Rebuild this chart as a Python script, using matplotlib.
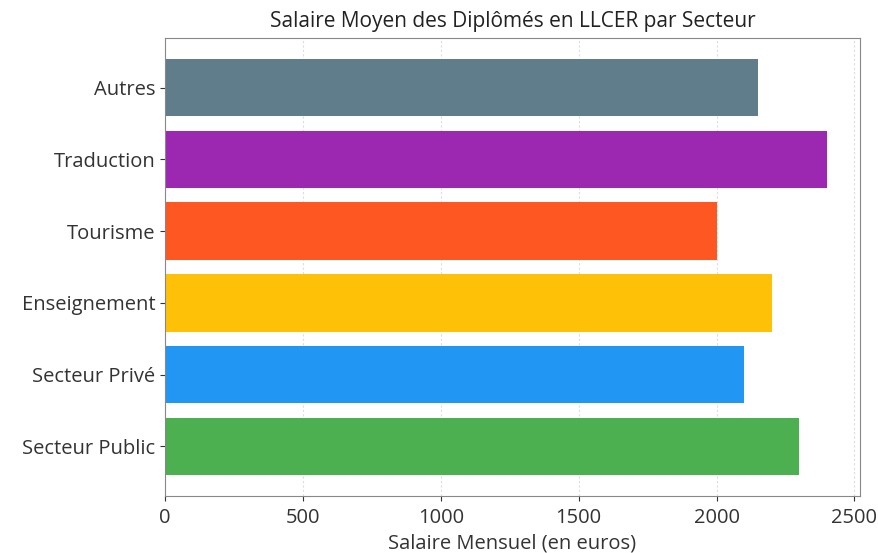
import matplotlib
matplotlib.use("Agg")
import matplotlib.pyplot as plt

categories = ["Secteur Public", "Secteur Privé", "Enseignement", "Tourisme", "Traduction", "Autres"]
salaries = [2300, 2100, 2200, 2000, 2400, 2150]
colors = ["#4CAF50", "#2196F3", "#FFC107", "#FF5722", "#9C27B0", "#607D8B"]
xticks = [0, 500, 1000, 1500, 2000, 2500]

plt.rcParams['font.family'] = ['Open Sans', 'DejaVu Sans']
fig = plt.figure(figsize=(8.79, 5.53), dpi=100)
ax = fig.add_axes([165/879, 1-496/553, (860-165)/879, (496-38)/553])
ax.barh(categories, salaries, color=colors, height=0.8, zorder=2)
ax.set_xticks(xticks)
ax.grid(axis='x', linestyle=(0, (2, 2)), color='#dddddd', linewidth=0.8, zorder=0)
ax.tick_params(labelsize=14.5, colors='#333333')
ax.tick_params(axis='x', pad=5)
for s in ax.spines.values():
    s.set_color('#888888')
ax.set_xlabel("Salaire Mensuel (en euros)", fontsize=14.5, color='#333333', labelpad=4)
ax.set_title("Salaire Moyen des Diplômés en LLCER par Secteur", fontsize=15, color='#222222', pad=8)
fig.savefig("out.png", dpi=100)
